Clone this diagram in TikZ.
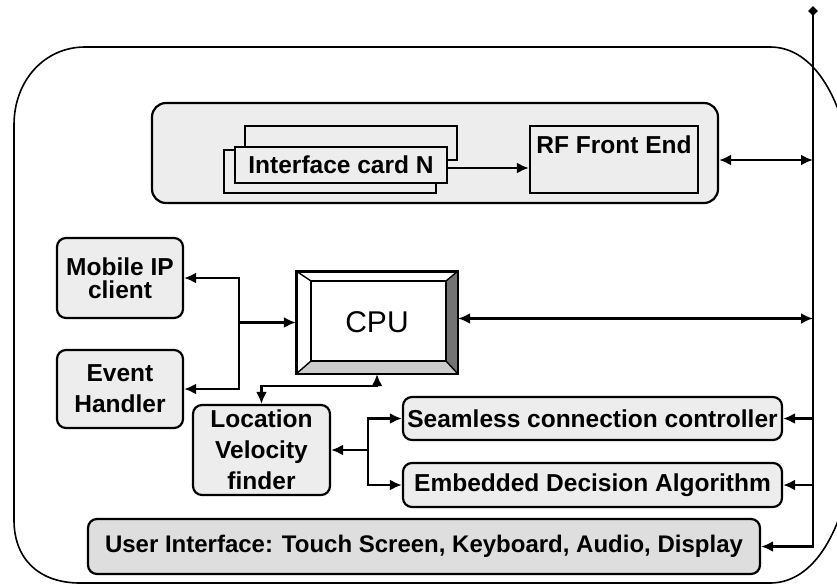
\documentclass[tikz,border=0pt]{standalone}
\usepackage{fontspec}
\setmainfont{Liberation Sans}
\usetikzlibrary{arrows.meta,shapes.geometric}

\begin{document}
\begin{tikzpicture}[x=1pt,y=-1pt,
    blk/.style={draw,line width=2.2pt,rounded corners=9pt,fill=black!7,align=center,inner sep=2pt,
      font=\bfseries\fontsize{24.5}{31}\selectfont},
    card/.style={draw,line width=2.2pt,fill=black!7,minimum width=212pt,inner sep=2pt,
      font=\bfseries\fontsize{24.5}{31}\selectfont},
    arr/.style={line width=2.4pt,-{Latex[length=12pt,width=11pt]}},
    arrs/.style={line width=2.4pt,{Latex[length=12pt,width=11pt]}-{Latex[length=12pt,width=11pt]}}]
  \useasboundingbox (0,0) rectangle (837,584);
  % casing, it runs off the right edge
  \begin{scope}
    \clip (0,0) rectangle (837,584);
    \draw[line width=1.6pt] (14,125) .. controls (14,80) and (45,47) .. (85,47) -- (770,47)
      .. controls (805,47) and (835,80) .. (850,150) -- (850,480)
      .. controls (835,550) and (805,583) .. (770,583) -- (80,583)
      .. controls (40,583) and (14,560) .. (14,520) -- cycle;
  \end{scope}

  % radio part
  \node[blk,rounded corners=14pt,minimum width=566pt,minimum height=100pt] (radio) at (435,153) {};
  \node[card,minimum height=34pt] (cardb) at (351,143) {};
  \node[card,minimum height=43pt] (cardc) at (330,171.5) {};
  \node[card,minimum height=36pt] (card) at (341,165) {Interface card N};
  \node[card,minimum width=168pt,minimum height=67pt,text height=17pt,text depth=30pt] (rf) at (614,159.5) {RF Front End};
  \draw[arr] ([yshift=-3pt]card.east) -- ([yshift=-3pt]card.east -| rf.west);

  \node[diamond,fill,inner sep=0pt,minimum size=10pt] (tip) at (813,11) {};

  \node[blk,minimum width=126pt,minimum height=80pt,font=\bfseries\fontsize{24.5}{23}\selectfont] (mip) at (120,278) {Mobile IP\\client};
  \node[blk,minimum width=126pt,minimum height=78pt] (evh) at (120,389) {Event\\Handler};
  \node[blk,minimum width=137pt,minimum height=90pt] (loc) at (261.5,450) {Location\\Velocity\\finder};
  \node[blk,minimum width=379pt,minimum height=43pt] (scc) at (592.5,418.5) {Seamless connection controller};
  \node[blk,minimum width=379pt,minimum height=44pt] (eda) at (592.5,485) {Embedded Decision Algorithm};
  \node[blk,minimum width=672pt,minimum height=55pt,fill=black!13,font=\bfseries\fontsize{24}{31}\selectfont] (ui) at (424,546.5) {User Interface: Touch Screen, Keyboard, Audio, Display};

  % cpu with bevel
  \node[draw,line width=2.2pt,minimum width=160pt,minimum height=101pt,font=\fontsize{30}{36}\selectfont] (cpu) at (377,322.5) {CPU};
  \coordinate (fnw) at ([shift={(15,10)}]cpu.north west);
  \coordinate (fse) at ([shift={(-12,-13)}]cpu.south east);
  \fill[black!55] (cpu.north east) -- (cpu.south east) -- (fse) -- (fse |- fnw) -- cycle;
  \fill[black!20] (cpu.south west) -- (cpu.south east) -- (fse) -- (fnw |- fse) -- cycle;
  \draw[line width=1.8pt] (fnw) rectangle (fse);
  \draw[line width=1.4pt] (cpu.north west) -- (fnw) (cpu.north east) -- (fse |- fnw)
    (cpu.south east) -- (fse) (cpu.south west) -- (fnw |- fse);
  \draw[line width=2.2pt] (cpu.north west) rectangle (cpu.south east);

  \coordinate (jm) at ([xshift=-57pt]cpu.west);
  \draw[arr] (jm) -- (cpu.west);
  \draw[arr] (jm) |- (mip.east);
  \draw[arr] (jm) |- (evh.east);
  \draw[arrs] (loc.north) -- ++(0,-18) -| (cpu.south);
  \coordinate (jl) at ([xshift=37pt]loc.east);
  \draw[arr] (jl) -- (loc.east);
  \draw[arr] (jl) |- (scc.west);
  \draw[arr] (jl) |- (eda.west);

  % bus
  \draw[arr] (tip.center) |- (ui.east);
  \draw[arrs] ([yshift=-7pt]radio.east) -- ([yshift=-7pt]radio.east -| tip);
  \draw[arrs] ([yshift=4pt]cpu.east) -- ([yshift=4pt]cpu.east -| tip);
  \draw[arr] (scc.east -| tip) -- (scc.east);
  \draw[arr] (eda.east -| tip) -- (eda.east);
\end{tikzpicture}
\end{document}
